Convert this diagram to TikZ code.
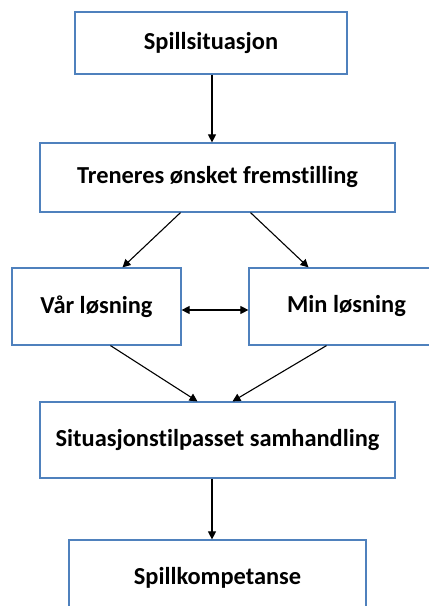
\documentclass[tikz,border=0pt]{standalone}
\usepackage{fontspec}
\setmainfont{Carlito}[Ligatures=NoCommon]
\usetikzlibrary{arrows.meta,positioning}
\definecolor{boxblue}{RGB}{79,129,189}
\tikzset{
    boks/.style={
        draw=boxblue,
        line width=1.2pt,
        inner sep=0pt,
        font=\bfseries\fontsize{24.5}{28}\selectfont
    },
    % pil mellom boksene
    pil/.style={
        line width=1.1pt,
        black,
        -{Triangle[length=8pt, width=8pt]}
    },
    dobbelpil/.style={
        line width=1.1pt,
        black,
        {Triangle[length=8pt, width=8pt]}-{Triangle[length=8pt, width=8pt]}
    }
}

\begin{document}
\begin{tikzpicture}[x=1bp, y=-1bp]
            \useasboundingbox (0,0) rectangle (428,606);
            \fill[white] (0,0) rectangle (428,606);

            % boksene
            \node[boks, minimum width=272bp, minimum height=62bp] (spill) at (211,43) {Spillsituasjon};
            \node[boks, minimum width=355bp, minimum height=69bp] (trener) at (217.5,177.5) {Treneres ønsket fremstilling};
            \node[boks, minimum width=169bp, minimum height=77bp] (vaar) at (96.5,306.5) {Vår løsning};
            \node[boks, minimum width=195bp, minimum height=77bp] (min) at (346.5,306.5) {Min løsning};
            \node[boks, minimum width=355bp, minimum height=76bp] (samh) at (217.5,440) {Situasjonstilpasset samhandling};
            \node[boks, minimum width=297bp, minimum height=76bp] (komp) at (217.5,578) {Spillkompetanse};

            % piler
            \draw[pil] (spill.south -| 212,0) -- (trener.north -| 212,0);
            \draw[pil] ([xshift=-37bp]trener.south) -- ([xshift=26bp]vaar.north);
            \draw[pil] ([xshift=33bp]trener.south) -- ([xshift=-38bp]min.north);
            \draw[dobbelpil] ([yshift=-3.5bp]vaar.east) -- ([yshift=-3.5bp]min.west);
            \draw[pil] ([xshift=14bp]vaar.south) -- ([xshift=-20bp]samh.north);
            \draw[pil] ([xshift=-20bp]min.south) -- ([xshift=15bp]samh.north);
            \draw[pil] (samh.south -| 212,0) -- (komp.north -| 212,0);
\end{tikzpicture}
\end{document}
